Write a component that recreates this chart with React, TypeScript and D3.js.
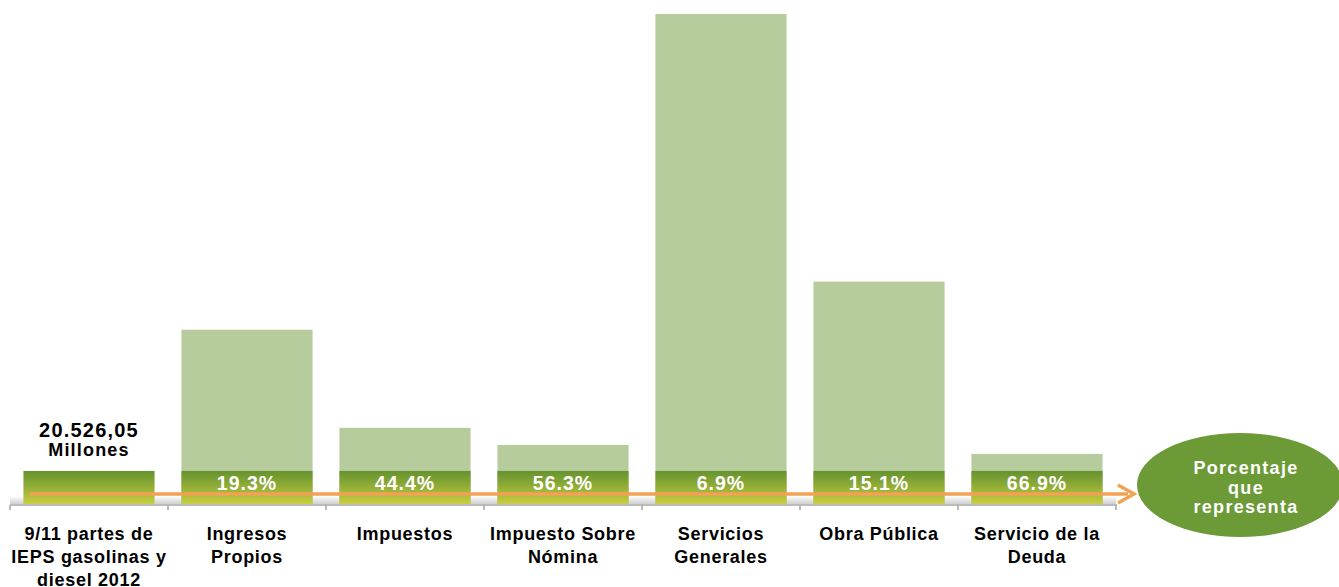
import { useEffect, useRef } from "react";
import * as d3 from "d3";

// categories along the x axis (multi-line labels)
const categories = [
    ["9/11 partes de", "IEPS gasolinas y", "diesel 2012"],
    ["Ingresos", "Propios"],
    ["Impuestos"],
    ["Impuesto Sobre", "Nómina"],
    ["Servicios", "Generales"],
    ["Obra Pública"],
    ["Servicio de la", "Deuda"],
];

// base amount (millones) shown as the dark bar in every column
const baseValue = 20526.05;
// estimated totals (millones) of each concept, null for the first column
const totals: (number | null)[] = [null, 108200, 47300, 36700, 304200, 138100, 31100];
const percentLabels = ["", "19.3%", "44.4%", "56.3%", "6.9%", "15.1%", "66.9%"];
const baseLabel = ["20.526,05", "Millones"];
const bubbleLabel = ["Porcentaje", "que", "representa"];

const W = 1339;
const H = 587;
const FONT = "'Liberation Sans', Arial, sans-serif";

export default function App() {
    const svgRef = useRef<SVGSVGElement | null>(null);

    useEffect(() => {
        const svg = d3.select(svgRef.current!);
        svg.selectAll("*").remove();

        const axisY = 504;
        const x = d3
            .scaleBand<number>()
            .domain(d3.range(categories.length))
            .range([10, 1116])
            .paddingInner(0.17)
            .paddingOuter(0.085);

        const y = d3.scaleLinear().domain([0, 304200]).range([axisY, 14]);

        const defs = svg.append("defs");
        const g1 = defs
            .append("linearGradient")
            .attr("id", "baseGrad")
            .attr("x1", 0)
            .attr("y1", 0)
            .attr("x2", 0)
            .attr("y2", 1);
        g1.append("stop").attr("offset", "0%").attr("stop-color", "#66922f");
        g1.append("stop").attr("offset", "45%").attr("stop-color", "#8fac36");
        g1.append("stop").attr("offset", "100%").attr("stop-color", "#cacd3f");

        const g2 = defs
            .append("linearGradient")
            .attr("id", "floorGrad")
            .attr("x1", 0)
            .attr("y1", 0)
            .attr("x2", 0)
            .attr("y2", 1);
        g2.append("stop").attr("offset", "0%").attr("stop-color", "#ffffff");
        g2.append("stop").attr("offset", "100%").attr("stop-color", "#cfcfcf");

        // floor strip
        svg.append("rect")
            .attr("x", 10)
            .attr("y", axisY - 8)
            .attr("width", 1106)
            .attr("height", 8)
            .attr("fill", "url(#floorGrad)");

        // light bars (totals)
        svg.append("g")
            .selectAll("rect")
            .data(totals.map((v, i) => ({ v, i })).filter((d) => d.v !== null))
            .join("rect")
            .attr("x", (d) => x(d.i)!)
            .attr("y", (d) => y(d.v as number))
            .attr("width", x.bandwidth())
            .attr("height", (d) => axisY - y(d.v as number))
            .attr("fill", "#b6cc9c");

        // dark base bars
        svg.append("g")
            .selectAll("rect")
            .data(categories.map((_, i) => i))
            .join("rect")
            .attr("x", (i) => x(i)!)
            .attr("y", y(baseValue))
            .attr("width", x.bandwidth())
            .attr("height", axisY - y(baseValue))
            .attr("fill", "url(#baseGrad)");

        // axis
        const axis = svg.append("g").attr("stroke", "#a6a6a6").attr("stroke-width", 1.5);
        axis.append("line").attr("x1", 10).attr("x2", 1117).attr("y1", axisY + 1).attr("y2", axisY + 1);
        axis.selectAll("line.tick")
            .data(d3.range(categories.length + 1))
            .join("line")
            .attr("class", "tick")
            .attr("x1", (i) => 10 + i * x.step())
            .attr("x2", (i) => 10 + i * x.step())
            .attr("y1", axisY + 1)
            .attr("y2", axisY + 6);

        // percentage labels
        svg.append("g")
            .selectAll("text")
            .data(percentLabels.map((t, i) => ({ t, i })).filter((d) => d.t))
            .join("text")
            .attr("x", (d) => x(d.i)! + x.bandwidth() / 2)
            .attr("y", 490)
            .attr("text-anchor", "middle")
            .attr("font-family", FONT)
            .attr("font-weight", "bold")
            .attr("font-size", 19.5)
            .attr("letter-spacing", 1)
            .attr("fill", "#ffffff")
            .text((d) => d.t);

        // orange arrow
        const arrowY = 494;
        svg.append("line")
            .attr("x1", 30)
            .attr("x2", 1128)
            .attr("y1", arrowY)
            .attr("y2", arrowY)
            .attr("stroke", "#f2a255")
            .attr("stroke-width", 3.5);
        svg.append("path")
            .attr("d", `M1118,${arrowY - 9} L1134,${arrowY} L1118,${arrowY + 9}`)
            .attr("fill", "none")
            .attr("stroke", "#f2a255")
            .attr("stroke-width", 3.5)
            .attr("stroke-linejoin", "miter");

        // base value label
        const cx0 = x(0)! + x.bandwidth() / 2;
        svg.append("text")
            .attr("x", cx0)
            .attr("y", 437)
            .attr("text-anchor", "middle")
            .attr("font-family", FONT)
            .attr("font-weight", "bold")
            .attr("font-size", 20)
            .attr("letter-spacing", 1.2)
            .attr("fill", "#000")
            .text(baseLabel[0]);
        svg.append("text")
            .attr("x", cx0)
            .attr("y", 456)
            .attr("text-anchor", "middle")
            .attr("font-family", FONT)
            .attr("font-weight", "bold")
            .attr("font-size", 18)
            .attr("letter-spacing", 1.2)
            .attr("fill", "#000")
            .text(baseLabel[1]);

        // category labels
        const cat = svg.append("g");
        categories.forEach((lines, i) => {
            const t = cat
                .append("text")
                .attr("text-anchor", "middle")
                .attr("font-family", FONT)
                .attr("font-weight", "bold")
                .attr("font-size", 18)
                .attr("letter-spacing", 0.7)
                .attr("fill", "#000");
            lines.forEach((ln, k) => {
                t.append("tspan")
                    .attr("x", x(i)! + x.bandwidth() / 2)
                    .attr("y", 540 + k * 23)
                    .text(ln);
            });
        });

        // bubble
        svg.append("ellipse")
            .attr("cx", 1240)
            .attr("cy", 485)
            .attr("rx", 103)
            .attr("ry", 52)
            .attr("fill", "#6b9a37");
        const bt = svg
            .append("text")
            .attr("text-anchor", "middle")
            .attr("font-family", FONT)
            .attr("font-weight", "bold")
            .attr("font-size", 18)
            .attr("letter-spacing", 1.3)
            .attr("fill", "#fff");
        bubbleLabel.forEach((ln, k) => {
            bt.append("tspan").attr("x", 1246).attr("y", 474 + k * 19.5).text(ln);
        });
    }, []);

    return (
        <div style={{ position: "absolute", left: 0, top: 0 }}>
            <svg ref={svgRef} width={W} height={H} style={{ display: "block" }} />
        </div>
    );
}
